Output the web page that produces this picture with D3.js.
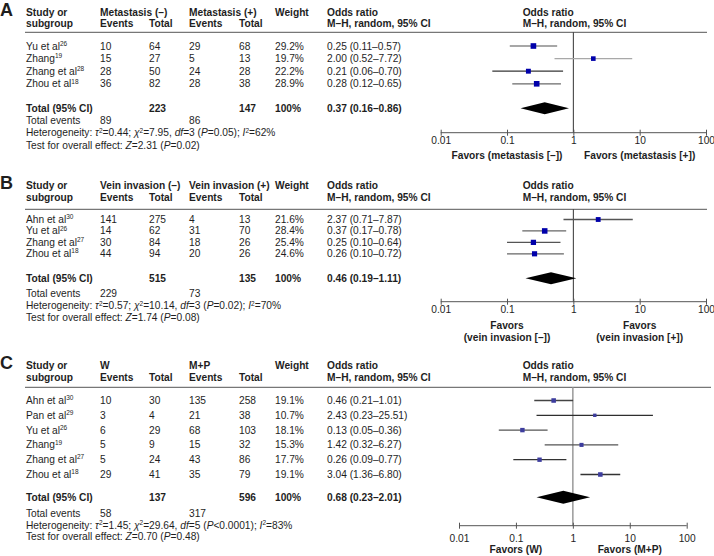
<!DOCTYPE html>
<html><head><meta charset="utf-8">
<script src="https://cdn.jsdelivr.net/npm/d3@7"></script>
<style>
body{margin:0;background:#fff}
text{font-family:"Liberation Sans",Arial,Helvetica,sans-serif;font-size:10.2px;fill:#1e1e1e}
</style>
</head><body>
<svg id="chart" width="714" height="556"></svg>
<script>
// ---------- Panel A: metastasis ----------
const studiesA = ["Yu et al", "Zhang", "Zhang et al", "Zhou et al"];
const refsA = ["26", "19", "28", "18"];
const evNegA = [10, 15, 28, 36];
const totNegA = [64, 27, 50, 82];
const evPosA = [29, 5, 24, 28];
const totPosA = [68, 13, 28, 38];
const weightA = [29.2, 19.7, 22.2, 28.9];
const orA = [0.25, 2.00, 0.21, 0.28];
const loA = [0.11, 0.52, 0.06, 0.12];
const hiA = [0.57, 7.72, 0.70, 0.65];
const sumTotalsA = [223, 147];
const sumEventsA = [89, 86];
const pooledA = [0.37, 0.16, 0.86];
const hetA = ["0.44", "7.95", "3", "=0.05", "62"];
const overallA = ["2.31", "0.02"];
const groupsA = ["Metastasis (–)", "Metastasis (+)"];
const favorsA = [["Favors (metastasis [–])"], ["Favors (metastasis [+])"]];

// ---------- Panel B: vein invasion ----------
const studiesB = ["Ahn et al", "Yu et al", "Zhang et al", "Zhou et al"];
const refsB = ["30", "26", "27", "18"];
const evNegB = [141, 14, 30, 44];
const totNegB = [275, 62, 84, 94];
const evPosB = [4, 31, 18, 20];
const totPosB = [13, 70, 26, 26];
const weightB = [21.6, 28.4, 25.4, 24.6];
const orB = [2.37, 0.37, 0.25, 0.26];
const loB = [0.71, 0.17, 0.10, 0.10];
const hiB = [7.87, 0.78, 0.64, 0.72];
const sumTotalsB = [515, 135];
const sumEventsB = [229, 73];
const pooledB = [0.46, 0.19, 1.11];
const hetB = ["0.57", "10.14", "3", "=0.02", "70"];
const overallB = ["1.74", "0.08"];
const groupsB = ["Vein invasion (–)", "Vein invasion (+)"];
const favorsB = [["Favors", "(vein invasion [–])"], ["Favors", "(vein invasion [+])"]];

// ---------- Panel C: W vs M+P ----------
const studiesC = ["Ahn et al", "Pan et al", "Yu et al", "Zhang", "Zhang et al", "Zhou et al"];
const refsC = ["30", "29", "26", "19", "27", "18"];
const evNegC = [10, 3, 6, 5, 5, 29];
const totNegC = [30, 4, 29, 9, 24, 41];
const evPosC = [135, 21, 68, 15, 43, 35];
const totPosC = [258, 38, 103, 32, 86, 79];
const weightC = [19.1, 10.7, 18.1, 15.3, 17.7, 19.1];
const orC = [0.46, 2.43, 0.13, 1.42, 0.26, 3.04];
const loC = [0.21, 0.23, 0.05, 0.32, 0.09, 1.36];
const hiC = [1.01, 25.51, 0.36, 6.27, 0.77, 6.80];
const sumTotalsC = [137, 596];
const sumEventsC = [58, 317];
const pooledC = [0.68, 0.23, 2.01];
const hetC = ["1.45", "29.64", "5", "<0.0001", "83"];
const overallC = ["0.70", "0.48"];
const groupsC = ["W", "M+P"];
const favorsC = [["Favors (W)"], ["Favors (M+P)"]];

const tickValues = [0.01, 0.1, 1, 10, 100];
const tickLabels = ["0.01", "0.1", "1", "10", "100"];

// ---------- styles (kept apart from data) ----------
const ciColorsA = ["#8a8a8a", "#a8a8a8", "#363636", "#6a6a6a"];
const ciColorsB = ["#555", "#666", "#555", "#666"];
const ciColorsC = ["#444", "#2e2e2e", "#555", "#555", "#333", "#333"];

const svg = d3.select("#chart");
const X = {study: 26, ev1: 100, tot1: 149, ev2: 189, tot2: 239, w: 275, or: 327};
const fmt2 = d3.format(".2f");

function supText(sel, parts) {
  // parts: [text, kind] kind: 0 normal, 1 italic, 2 superscript
  let prevSup = false;
  parts.forEach(([t, k]) => {
    const ts = sel.append("tspan").text(t);
    if (k === 1) ts.style("font-style", "italic");
    if (k === 2) { ts.style("font-size", "6.5px").attr("dy", -3.8); prevSup = true; return; }
    if (prevSup) { ts.attr("dy", 3.8); prevSup = false; }
  });
}

function panel(P, L) {
  const g = svg.append("g");
  const bold = s => s.style("font-weight", "bold");

  // panel letter
  g.append("text").attr("x", 0).attr("y", L.h1).text(L.letter)
    .style("font-size", "18px").style("font-weight", "bold");

  // headers
  const hdr = (x, y, t) => bold(g.append("text").attr("x", x).attr("y", y).text(t));
  hdr(X.study, L.h1, "Study or"); hdr(X.study, L.h2, "subgroup");
  hdr(X.ev1, L.h1, P.groups[0]); hdr(X.ev2, L.h1, P.groups[1]);
  hdr(X.ev1, L.h2, "Events"); hdr(X.tot1, L.h2, "Total");
  hdr(X.ev2, L.h2, "Events"); hdr(X.tot2, L.h2, "Total");
  hdr(X.w, L.h1, "Weight");
  hdr(X.or, L.h1, "Odds ratio"); hdr(X.or, L.h2, "M–H, random, 95% CI");
  hdr(522.7, L.h1, "Odds ratio"); hdr(522.7, L.h2, "M–H, random, 95% CI");

  g.append("line").attr("x1", 25).attr("x2", L.ruleEnd)
    .attr("y1", L.rule).attr("y2", L.rule).attr("stroke", "#555").attr("stroke-width", 1);

  const y = d3.scalePoint().domain(P.studies).range([L.row0, L.rowN]);
  const x = d3.scaleLog().domain([0.01, 100]).range(L.xr);
  const size = d3.scaleSqrt().domain([0, 30]).range([0, 5.7]);

  // study rows
  P.studies.forEach((s, i) => {
    const yy = y(s);
    const t = g.append("text").attr("x", X.study).attr("y", yy);
    supText(t, [[s, 0], [P.refs[i], 2]]);
    const cell = (xx, v) => g.append("text").attr("x", xx).attr("y", yy).text(v);
    cell(X.ev1, P.evNeg[i]); cell(X.tot1, P.totNeg[i]);
    cell(X.ev2, P.evPos[i]); cell(X.tot2, P.totPos[i]);
    cell(X.w, P.weight[i].toFixed(1) + "%");
    cell(X.or, `${fmt2(P.or[i])} (${fmt2(P.lo[i])}–${fmt2(P.hi[i])})`);
  });

  // vertical line at OR = 1
  g.append("line").attr("x1", x(1)).attr("x2", x(1))
    .attr("y1", L.rule).attr("y2", L.axisY)
    .attr("stroke", L.nullColor).attr("stroke-width", L.nullWidth);

  // CIs and squares
  P.studies.forEach((s, i) => {
    const yy = y(s) - 3.5;
    g.append("line").attr("x1", x(P.lo[i])).attr("x2", x(P.hi[i]))
      .attr("y1", yy).attr("y2", yy).attr("stroke", P.ciColors[i]).attr("stroke-width", 1.3);
    const sz = size(P.weight[i]);
    g.append("rect").attr("x", x(P.or[i]) - sz / 2).attr("y", yy - sz / 2)
      .attr("width", sz).attr("height", sz).attr("fill", L.sqColor);
  });

  // total row
  const ty = L.total;
  bold(g.append("text").attr("x", X.study).attr("y", ty).text("Total (95% CI)"));
  bold(g.append("text").attr("x", X.tot1).attr("y", ty).text(P.sumTotals[0]));
  bold(g.append("text").attr("x", X.tot2).attr("y", ty).text(P.sumTotals[1]));
  bold(g.append("text").attr("x", X.w).attr("y", ty).text("100%"));
  bold(g.append("text").attr("x", X.or).attr("y", ty)
    .text(`${fmt2(P.pooled[0])} (${fmt2(P.pooled[1])}–${fmt2(P.pooled[2])})`));
  const dy = ty - 3.5, dh = L.dh;
  g.append("path").attr("fill", "#000")
    .attr("d", `M${x(P.pooled[1])},${dy}L${x(P.pooled[0])},${dy - dh}L${x(P.pooled[2])},${dy}L${x(P.pooled[0])},${dy + dh}Z`);

  g.append("text").attr("x", X.study).attr("y", L.tev).text("Total events");
  g.append("text").attr("x", X.ev1).attr("y", L.tev).text(P.sumEvents[0]);
  g.append("text").attr("x", X.ev2).attr("y", L.tev).text(P.sumEvents[1]);

  const h = P.het;
  supText(g.append("text").attr("x", X.study).attr("y", L.het), [
    ["Heterogeneity: ", 0], ["τ", 1], ["2", 2], [`=${h[0]}; `, 0], ["χ", 1], ["2", 2],
    [`=${h[1]}, `, 0], ["df", 1], [`=${h[2]} (`, 0], ["P", 1], [`${h[3]}); `, 0],
    ["I", 1], ["2", 2], [`=${h[4]}%`, 0]]);
  supText(g.append("text").attr("x", X.study).attr("y", L.test), [
    ["Test for overall effect: ", 0], ["Z", 1], [`=${P.overall[0]} (`, 0], ["P", 1], [`=${P.overall[1]})`, 0]]);

  // axis
  const axis = d3.axisBottom(x).tickValues(tickValues).tickFormat((d, i) => tickLabels[i]).tickSize(3).tickSizeOuter(0);
  const ag = g.append("g").attr("transform", `translate(0,${L.axisY})`).call(axis);
  ag.select(".domain").attr("stroke", "#555").attr("d", `M${L.xr[0]},0H${L.xr[1]}`);
  ag.selectAll(".tick line").attr("stroke", "#555").attr("y1", -3).attr("y2", 3);
  ag.selectAll(".tick text").attr("y", L.tick - L.axisY).attr("dy", 0)
    .style("font-family", '"Liberation Sans",Arial,sans-serif').style("font-size", "10.2px").attr("fill", "#1e1e1e");

  // favors labels
  [0.1, 10].forEach((v, k) => {
    P.favors[k].forEach((line, j) => {
      bold(g.append("text").attr("x", x(v)).attr("y", L.fav + j * 12).attr("text-anchor", "middle").text(line));
    });
  });
}

panel({studies: studiesA, refs: refsA, evNeg: evNegA, totNeg: totNegA, evPos: evPosA, totPos: totPosA,
  weight: weightA, or: orA, lo: loA, hi: hiA, sumTotals: sumTotalsA, sumEvents: sumEventsA, pooled: pooledA,
  het: hetA, overall: overallA, groups: groupsA, favors: favorsA, ciColors: ciColorsA},
  {letter: "A", h1: 15.5, h2: 26.5, rule: 32.3, ruleEnd: 707, row0: 49.5, rowN: 87.3, total: 111.7, tev: 124,
   het: 136.3, test: 148.5, axisY: 132.7, tick: 144.5, fav: 158.5, xr: [440.7, 706],
   nullColor: "#333", nullWidth: 1, sqColor: "#0000aa", dh: 6});

panel({studies: studiesB, refs: refsB, evNeg: evNegB, totNeg: totNegB, evPos: evPosB, totPos: totPosB,
  weight: weightB, or: orB, lo: loB, hi: hiB, sumTotals: sumTotalsB, sumEvents: sumEventsB, pooled: pooledB,
  het: hetB, overall: overallB, groups: groupsB, favors: favorsB, ciColors: ciColorsB},
  {letter: "B", h1: 189.3, h2: 201, rule: 209.3, ruleEnd: 707, row0: 223, rowN: 257.3, total: 281.7, tev: 297.3,
   het: 309.3, test: 320.7, axisY: 301.7, tick: 313.3, fav: 328.7, xr: [440.7, 706],
   nullColor: "#333", nullWidth: 1, sqColor: "#0000aa", dh: 6});

panel({studies: studiesC, refs: refsC, evNeg: evNegC, totNeg: totNegC, evPos: evPosC, totPos: totPosC,
  weight: weightC, or: orC, lo: loC, hi: hiC, sumTotals: sumTotalsC, sumEvents: sumEventsC, pooled: pooledC,
  het: hetC, overall: overallC, groups: groupsC, favors: favorsC, ciColors: ciColorsC},
  {letter: "C", h1: 369.3, h2: 381, rule: 387.3, ruleEnd: 711, row0: 404, rowN: 478, total: 500.7, tev: 516.7,
   het: 528.7, test: 540.3, axisY: 525.7, tick: 542, fav: 553.3, xr: [459, 686.7],
   nullColor: "#999", nullWidth: 1.5, sqColor: "#3d3d9e", dh: 6.5});
</script>
</body></html>
